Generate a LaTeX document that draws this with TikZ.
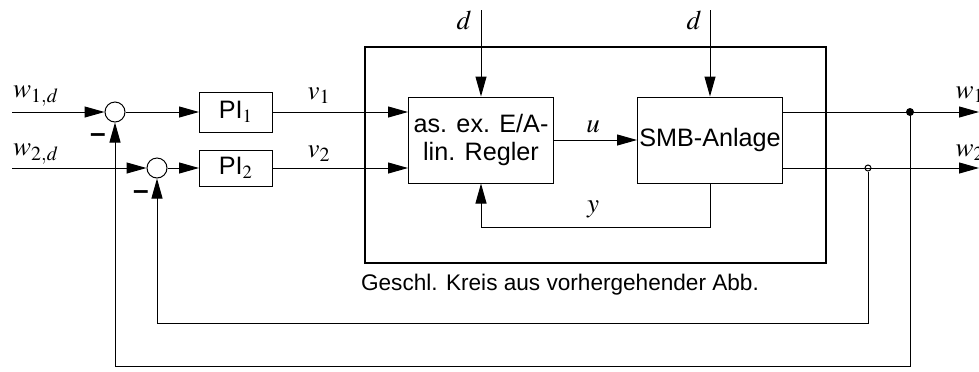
\documentclass[tikz,border=0pt]{standalone}
\usepackage{mathptmx}
\usepackage{fontspec}
\setsansfont{Liberation Sans}
\usetikzlibrary{positioning, arrows.meta, calc}

\begin{document}
\begin{tikzpicture}[
  x=0.5pt, y=-0.5pt,
  line width=0.5pt,
  box/.style={rectangle, draw=black, inner sep=0pt, font=\sffamily\fontsize{12.6}{14}\selectfont,
              align=center},
  summer/.style={circle, draw=black, minimum size=10pt, inner sep=0pt},
  lbl/.style={font=\fontsize{13.5}{15}\selectfont, inner sep=0pt},
  minus/.style={font=\sffamily\bfseries\fontsize{14}{15}\selectfont, inner sep=0pt},
  arrow/.style={-{Triangle[length=10pt, width=5.5pt]}},
  frame/.style={draw=black, line width=1pt},
]
  \useasboundingbox (0,0) rectangle (979,371);

  % outer frame of the inner loop
  \draw[frame] (365,47) rectangle (826,263);
  \node[font=\sffamily\fontsize{11.3}{13}\selectfont] (caption) at (560,285)
       {Geschl. Kreis aus vorhergehender Abb.};

  \node[summer] (sumA) at (115,112) {};
  \node[summer] (sumB) at (157,168) {};
  \node[box, minimum width=36.5pt, minimum height=20pt] (piA) at (236,112) {PI$_1$};
  \node[box, minimum width=36.5pt, minimum height=18pt] (piB) at (236,168) {PI$_2$};
  \node[box, minimum width=72.5pt, minimum height=43pt] (ctrl) at (481,140)
       {as. ex. E/A-\\lin. Regler};
  \node[box, minimum width=72.5pt, minimum height=43pt] (plant) at (710,140) {SMB-Anlage};

  \coordinate (inA) at (12,112);
  \coordinate (inB) at (12,168);
  \coordinate (distA) at (481,10);
  \coordinate (distB) at (710,10);
  \coordinate (outA) at (979,112);
  \coordinate (outB) at (979,168);
  \coordinate (loopA) at (910,366);
  \coordinate (loopB) at (868,323);
  \coordinate (ybend) at (710,227);

  \fill (910,112) circle (2pt) coordinate (tapA);
  \node[circle, draw=black, fill=white, minimum size=3pt, inner sep=0pt] (tapB) at (868,168) {};

  % labels
  \node[lbl] (wAd) at (36,96) {$w_{1,d}$};
  \node[lbl] (wBd) at (36,154) {$w_{2,d}$};
  \node[minus] (mA) at (98,138) {--};
  \node[minus] (mB) at (141,195) {--};
  \node[lbl] (vA) at (319,96) {$v_1$};
  \node[lbl] (vB) at (319,154) {$v_2$};
  \node[lbl] (dA) at (464,20) {$d$};
  \node[lbl] (dB) at (694,20) {$d$};
  \node[lbl] (uu) at (593,127) {$u$};
  \node[lbl] (yy) at (593,209) {$y$};
  \node[lbl, anchor=west] (wA) at (955,95) {$w_1$};
  \node[lbl, anchor=west] (wB) at (955,153) {$w_2$};

  \draw[arrow] (inA) -- (sumA);
  \draw[arrow] (sumA) -- (piA);
  \draw[arrow] (piA.east) -- (ctrl.west |- piA.east);
  \draw[arrow] (inB) -- (sumB);
  \draw[arrow] (sumB) -- (piB);
  \draw[arrow] (piB.east) -- (ctrl.west |- piB.east);

  \draw[arrow] (distA) -- (ctrl.north);
  \draw[arrow] (distB) -- (plant.north);
  \draw[arrow] (ctrl) -- (plant);
  \draw[arrow] (plant.south) -- (ybend) -| (ctrl.south);

  \draw[arrow] (plant.east |- outA) -- (outA);
  \draw[arrow] (plant.east |- outB) -- (outB);

  \draw[arrow] (tapA) -- (loopA) -| (sumA.south);
  \draw[arrow] (tapB.south) -- (loopB) -| (sumB.south);
\end{tikzpicture}
\end{document}
